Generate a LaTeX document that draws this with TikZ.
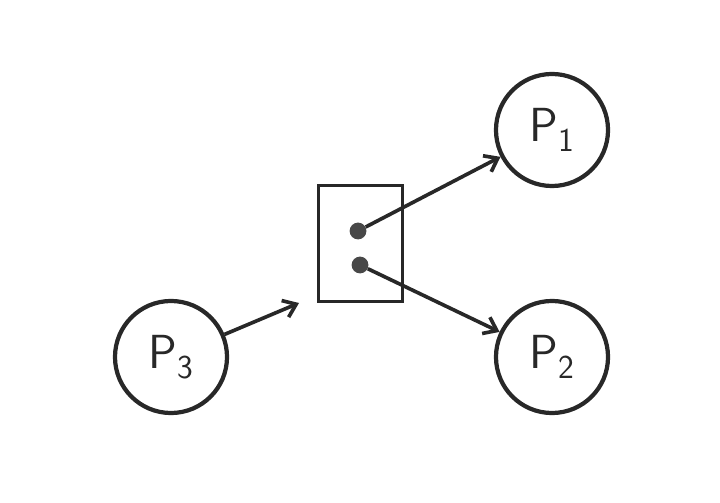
\documentclass[tikz,border=0pt]{standalone}
\usepackage{tikz}
\usetikzlibrary{positioning, arrows.meta}
\definecolor{pencil}{RGB}{40, 40, 40}

\begin{document}
\begin{tikzpicture}[x=0.025cm, y=-0.025cm,
        proc/.style={circle, draw=pencil, line width=3pt,
            minimum size=2.8cm, inner sep=0pt,
            font=\sffamily\fontsize{34}{40}\selectfont, text=pencil},
        slot/.style={circle, fill=pencil!85, inner sep=0pt, minimum size=0.42cm},
        arr/.style={-{Straight Barb[length=3mm, width=4.5mm]}, line width=2.6pt, pencil}
    ]
    \useasboundingbox (0,0) rectangle (720,503);

    % the shared box with its two slots
    \node[draw=pencil, line width=2.8pt, minimum width=2.1cm,
          minimum height=2.9cm] (box) at (360.5, 243.5) {};
    \node[slot] (d1) at (358, 231) {};
    \node[slot] (d2) at (360, 265) {};

    \node[proc] (p1) at (552, 130) {P\textsubscript{1}};
    \node[proc] (p2) at (552, 357) {P\textsubscript{2}};
    \node[proc] (p3) at (171, 357) {P\textsubscript{3}};

    \coordinate (in) at (299, 303);

    \draw[arr] (d1) -- (p1);
    \draw[arr] (d2) -- (p2);
    \draw[arr] (p3) -- (in);

\end{tikzpicture}
\end{document}
